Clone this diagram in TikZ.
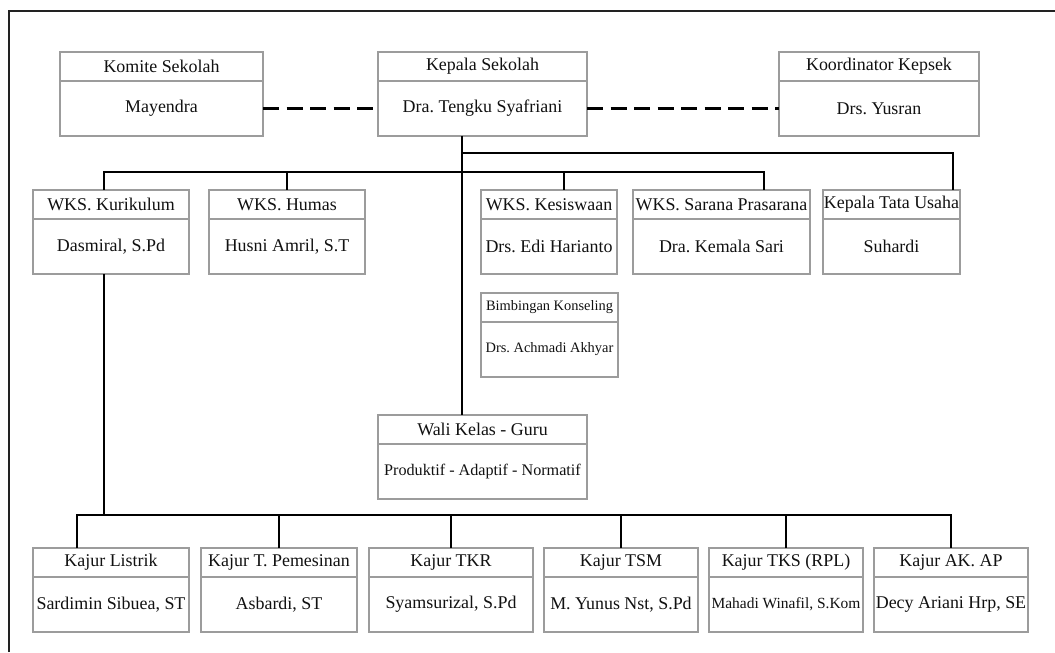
\documentclass[tikz,border=0pt]{standalone}
\usepackage{fontspec}
\setmainfont{Liberation Serif}
\usepackage{xcolor}
\usetikzlibrary{positioning, calc}
\definecolor{ink}{HTML}{111111}
\definecolor{boxline}{HTML}{9C9C9C}
\definecolor{frameline}{HTML}{222222}
\tikzset{
  head/.style={
    draw=boxline, line width=0.7pt, fill=white, outer sep=0pt, inner sep=0.5pt,
    minimum height=5.8mm, align=center, text=ink,
    font=\fontsize{10.2}{12}\selectfont,
  },
  body/.style={head, minimum height=11mm},
  small/.style={font=\fontsize{8.2}{10}\selectfont},
  %
  link/.style={draw=black, line width=1.3pt},
  dashlink/.style={link, dash pattern=on 0.32cm off 0.15cm},
  frame/.style={draw=frameline, line width=0.6pt},
}
\frenchspacing

\begin{document}
\begin{tikzpicture}[x=1cm, y=1cm]
\useasboundingbox (0,0) rectangle (21.1,13.04);
\draw[frame] (0.18,0) -- (0.18,12.82) -- (21.1,12.82);

% ------------------------------------------------------------------ top
\node[head, minimum width=4.06cm, anchor=north] (komT) at (3.23,12.0) {Komite Sekolah};
\node[body, minimum width=4.06cm, below=0pt of komT] (kom) {Mayendra};
\node[head, minimum width=4.18cm, anchor=north] (kepT) at (9.65,12.0) {Kepala Sekolah};
\node[body, minimum width=4.18cm, below=0pt of kepT] (kep) {Dra. Tengku Syafriani};
\node[head, minimum width=4.0cm, anchor=north] (korT) at (17.58,12.0) {Koordinator Kepsek};
\node[body, minimum width=4.0cm, below=0pt of korT] (kor) {Drs. Yusran};

% ---------------------------------------------------------------- wakil
\node[head, minimum width=3.12cm, anchor=north] (kurT) at (2.22,9.24) {WKS. Kurikulum};
\node[body, minimum width=3.12cm, below=0pt of kurT] (kur) {Dasmiral, S.Pd};
\node[head, minimum width=3.12cm, anchor=north] (humT) at (5.74,9.24) {WKS. Humas};
\node[body, minimum width=3.12cm, below=0pt of humT] (hum) {Husni Amril, S.T};
\node[head, minimum width=2.72cm, anchor=north] (kesT) at (10.98,9.24) {WKS. Kesiswaan};
\node[body, minimum width=2.72cm, below=0pt of kesT] (kes) {Drs. Edi Harianto};
\node[head, minimum width=3.54cm, anchor=north] (sarT) at (14.43,9.24) {WKS. Sarana Prasarana};
\node[body, minimum width=3.54cm, below=0pt of sarT] (sar) {Dra. Kemala Sari};
\node[head, minimum width=2.74cm, anchor=north] (tuT) at (17.83,9.24) {Kepala Tata Usaha};
\node[body, minimum width=2.74cm, below=0pt of tuT] (tu) {Suhardi};

\node[head, small, minimum width=2.74cm, anchor=north] (bkT) at (10.99,7.18) {Bimbingan Konseling};
\node[body, small, minimum width=2.74cm, below=0pt of bkT] (bk) {Drs. Achmadi Akhyar};

\node[head, minimum width=4.18cm, anchor=north] (waliT) at (9.65,4.74) {Wali Kelas - Guru};
\node[body, minimum width=4.18cm, below=0pt of waliT,
      font=\fontsize{9.2}{11}\selectfont] (wali) {Produktif - Adaptif - Normatif};

% ---------------------------------------------------------------- kajur
\node[head, minimum width=3.12cm, anchor=north] (lisT) at (2.22,2.08) {Kajur Listrik};
\node[body, minimum width=3.12cm, below=0pt of lisT] (lis) {Sardimin Sibuea, ST};
\node[head, minimum width=3.12cm, anchor=north] (pemT) at (5.58,2.08) {Kajur T. Pemesinan};
\node[body, minimum width=3.12cm, below=0pt of pemT] (pem) {Asbardi, ST};
\node[head, minimum width=3.28cm, anchor=north] (tkrT) at (9.02,2.08) {Kajur TKR};
\node[body, minimum width=3.28cm, below=0pt of tkrT] (tkr) {Syamsurizal, S.Pd};
\node[head, minimum width=3.08cm, anchor=north] (tsmT) at (12.42,2.08) {Kajur TSM};
\node[body, minimum width=3.08cm, below=0pt of tsmT] (tsm) {M. Yunus Nst, S.Pd};
\node[head, minimum width=3.08cm, anchor=north] (tksT) at (15.72,2.08) {Kajur TKS (RPL)};
\node[body, minimum width=3.08cm, below=0pt of tksT,
      font=\fontsize{8.8}{10}\selectfont] (tks) {Mahadi Winafil, S.Kom};
\node[head, minimum width=3.08cm, anchor=north] (akT) at (19.02,2.08) {Kajur AK. AP};
\node[body, minimum width=3.08cm, below=0pt of akT] (ak) {Decy Ariani Hrp, SE};

% ----------------------------------------------------------- connectors
\coordinate (busA) at (0,9.98);
\coordinate (busB) at (0,9.6);
\coordinate (busC) at (0,2.74);
\coordinate (trunk) at ([xshift=-0.41cm]kep.south);
\coordinate (tuDrop) at ([xshift=1.23cm]tuT.north);
\coordinate (kurDrop) at ([xshift=-0.14cm]kurT.north);
\coordinate (kurLeg) at ([xshift=-0.14cm]kur.south);
\coordinate (kesDrop) at ([xshift=0.30cm]kesT.north);
\coordinate (sarDrop) at ([xshift=0.85cm]sarT.north);
\coordinate (lisDrop) at ([xshift=-0.68cm]lisT.north);

\draw[dashlink] (kom.east) -- (kep.west);
\draw[dashlink] (kep.east) -- (kor.west);

\draw[link] (trunk) -- (trunk |- waliT.north);
\draw[link] (trunk |- busA) -| (tuDrop);
\draw[link] (kurDrop) |- (sarDrop |- busB) -- (sarDrop);
\draw[link] (humT.north) -- (humT.north |- busB);
\draw[link] (kesDrop) -- (kesDrop |- busB);

\draw[link] (kurLeg) -- (kurLeg |- busC);
\draw[link] (lisDrop) |- (akT.north |- busC) -- (akT.north);
\foreach \k in {pemT,tkrT,tsmT,tksT} { \draw[link] (\k.north) -- (\k.north |- busC); }

\end{tikzpicture}
\end{document}
